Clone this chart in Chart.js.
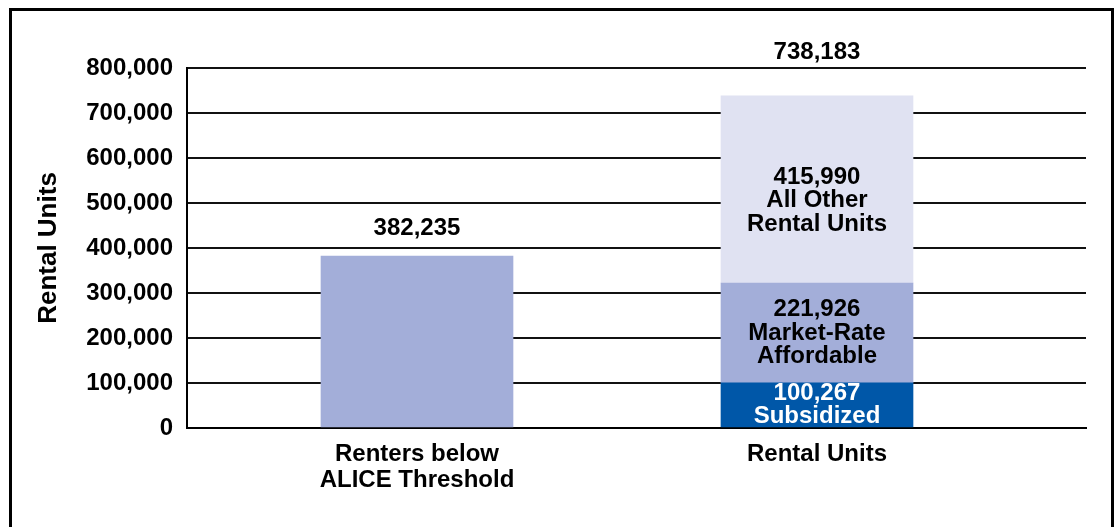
<!DOCTYPE html>
<html><head><meta charset="utf-8">
<script src="https://cdn.jsdelivr.net/npm/chart.js@4.4.1/dist/chart.umd.min.js"></script>
<style>
html,body{margin:0;padding:0;background:#fff;overflow:hidden;}
#wrap{position:relative;width:1118px;height:527px;overflow:hidden;}
#frame{position:absolute;left:9px;top:8px;width:1105px;height:600px;border:3px solid #000;box-sizing:border-box;pointer-events:none;}
canvas{position:absolute;left:0;top:0;}
</style></head><body>
<div id="wrap"><canvas id="c" width="1118" height="527"></canvas><div id="frame"></div></div>
<script>
// ---- data ----
const categories = [['Renters below', 'ALICE Threshold'], ['Rental Units']];
const categoryPositions = [1, 2];
const subsidized = [null, 100267];
const marketRate = [382235, 221926];
const allOther = [null, 415990];
const seriesNames = ['Subsidized', ['Market-Rate', 'Affordable'], ['All Other', 'Rental Units']];
const yTicks = [0, 100000, 200000, 300000, 400000, 500000, 600000, 700000, 800000];
const yAxisTitle = 'Rental Units';

// ---- styles ----
const FONT = '"Liberation Sans", Arial, sans-serif';
const seriesColors = ['#0057a8', '#a3aed9', '#e0e2f2'];
const labelColors = ['#ffffff', '#000000', '#000000'];

const toPoints = vals => vals.map((v, i) => ({ x: categoryPositions[i], y: v }));

const labelPlugin = {
  id: 'barLabels',
  afterDatasetsDraw(chart, args, opts) {
    const ctx = chart.ctx;
    ctx.save();
    ctx.font = 'bold ' + opts.fontSize + 'px ' + FONT;
    ctx.textAlign = 'center';
    ctx.textBaseline = 'middle';
    for (let i = 0; i < categories.length; i++) {
      const parts = chart.data.datasets.map((ds, d) => ({ d, v: ds.data[i].y, el: chart.getDatasetMeta(d).data[i] }))
        .filter(p => p.v !== null && p.v !== undefined);
      if (!parts.length) continue;
      let total = 0, topY = Infinity, x = parts[0].el.x;
      parts.forEach(p => { total += p.v; topY = Math.min(topY, p.el.y); });
      if (parts.length > 1) {
        parts.forEach(p => {
          const lines = [p.v.toLocaleString('en-US')].concat(seriesNames[p.d]);
          const cy = (p.el.y + p.el.base) / 2 + (opts.segmentShift[p.d] || 0);
          ctx.fillStyle = labelColors[p.d];
          lines.forEach((t, k) => ctx.fillText(t, x, cy + (k - (lines.length - 1) / 2) * opts.lineHeight));
        });
      }
      ctx.fillStyle = '#000';
      ctx.fillText(total.toLocaleString('en-US'), x, topY + opts.totalShift[i]);
    }
    ctx.restore();
  }
};

new Chart(document.getElementById('c'), {
  type: 'bar',
  data: {
    datasets: [
      { label: 'Subsidized', data: toPoints(subsidized), backgroundColor: seriesColors[0] },
      { label: 'Market-Rate Affordable', data: toPoints(marketRate), backgroundColor: seriesColors[1] },
      { label: 'All Other Rental Units', data: toPoints(allOther), backgroundColor: seriesColors[2] }
    ]
  },
  plugins: [labelPlugin],
  options: {
    responsive: false,
    animation: false,
    devicePixelRatio: 1,
    layout: { padding: { top: 68, right: 32, left: 0, bottom: 0 } },
    datasets: { bar: { barThickness: 192, borderWidth: 0 } },
    plugins: {
      legend: { display: false },
      tooltip: { enabled: false },
      barLabels: { fontSize: 24, lineHeight: 23.5, segmentShift: [0, 0, 11], totalShift: [-28, -43] }
    },
    scales: {
      x: {
        type: 'linear', stacked: true, offset: false,
        min: 0.425, max: 2.6725,
        afterBuildTicks: s => { s.ticks = categoryPositions.map(v => ({ value: v })); },
        afterFit: s => { s.height = 99; },
        grid: { display: false, drawTicks: false, offset: false },
        border: { display: true, color: '#000', width: 2 },
        ticks: {
          callback: v => categories[categoryPositions.indexOf(v)],
          font: { family: FONT, size: 24, weight: 'bold', lineHeight: 1.08 },
          color: '#000', padding: 13, maxRotation: 0, autoSkip: false
        }
      },
      y: {
        stacked: true, min: 0, max: 800000,
        afterBuildTicks: s => { s.ticks = yTicks.map(v => ({ value: v })); },
        afterFit: s => { s.width = 187; },
        grid: { color: '#111', lineWidth: 2, drawTicks: false },
        border: { display: true, color: '#000', width: 2 },
        ticks: {
          callback: v => v.toLocaleString('en-US'),
          font: { family: FONT, size: 24, weight: 'bold' },
          color: '#000', padding: 14
        },
        title: {
          display: true, text: yAxisTitle, color: '#000',
          font: { family: FONT, size: 26, weight: 'bold' },
          padding: { top: 33, bottom: 0 }
        }
      }
    }
  }
});
</script>
</body></html>
